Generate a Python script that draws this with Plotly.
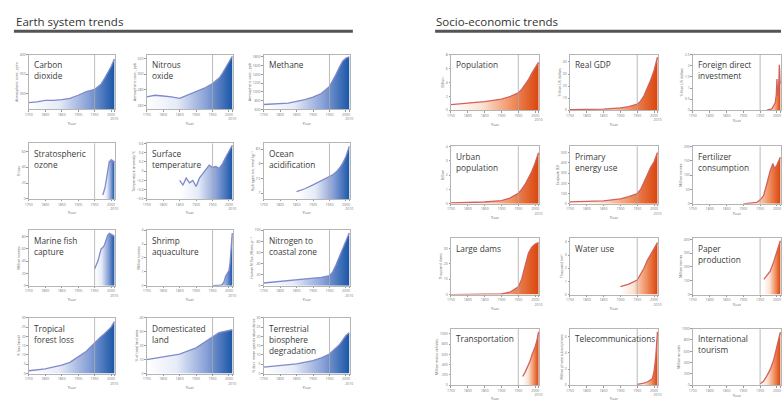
import plotly.graph_objects as go

W, H = 784, 401

# ---------------- Earth system trends (data) ----------------
co2_years = [1750, 1775, 1800, 1825, 1850, 1875, 1900, 1925, 1950, 1960, 1970, 1980, 1990, 2000, 2010]
co2_vals = [277, 279, 283, 283, 285, 288, 296, 305, 311, 317, 325, 339, 354, 369, 389]

n2o_years = [1750, 1775, 1800, 1825, 1850, 1875, 1900, 1925, 1950, 1960, 1970, 1980, 1990, 2000, 2010]
n2o_vals = [271, 273, 272, 271, 269, 273, 278, 282, 288, 291, 295, 301, 309, 316, 323]

ch4_years = [1750, 1775, 1800, 1825, 1850, 1875, 1900, 1925, 1950, 1960, 1970, 1980, 1990, 2000, 2010]
ch4_vals = [710, 720, 725, 740, 780, 820, 880, 960, 1120, 1250, 1400, 1560, 1700, 1770, 1800]

ozone_years = [1975, 1978, 1980, 1982, 1985, 1988, 1990, 1993, 1995, 1998, 2000, 2003, 2005, 2008, 2010]
ozone_vals = [5, 8, 12, 15, 24, 28, 35, 44, 48, 46, 50, 47, 49, 46, 48]

temp_years = [1850, 1860, 1870, 1880, 1890, 1900, 1910, 1920, 1930, 1940, 1950, 1960, 1970, 1980, 1990, 2000, 2010]
temp_vals = [-0.2, -0.3, -0.15, -0.25, -0.2, -0.33, -0.15, -0.05, 0.05, 0.13, 0.08, 0.1, 0.06, 0.16, 0.3, 0.42, 0.56]

ocean_years = [1850, 1875, 1900, 1925, 1950, 1960, 1970, 1980, 1990, 2000, 2010]
ocean_vals = [7.05, 7.15, 7.28, 7.42, 7.58, 7.63, 7.72, 7.85, 8.02, 8.25, 8.6]

fish_years = [1950, 1955, 1960, 1965, 1970, 1975, 1980, 1985, 1990, 1995, 2000, 2005, 2010]
fish_vals = [27, 33, 40, 50, 60, 62, 66, 74, 82, 85, 84, 82, 80]

shrimp_years = [1950, 1960, 1970, 1975, 1980, 1985, 1990, 1995, 2000, 2003, 2005, 2008, 2010]
shrimp_vals = [0.0, 0.01, 0.03, 0.05, 0.1, 0.3, 0.7, 0.9, 1.1, 1.6, 2.5, 3.3, 3.8]

nitro_years = [1750, 1800, 1850, 1900, 1925, 1950, 1960, 1970, 1980, 1990, 2000, 2010]
nitro_vals = [5, 8, 11, 13, 15, 18, 25, 38, 53, 67, 80, 95]

forest_years = [1750, 1800, 1850, 1875, 1900, 1925, 1950, 1960, 1970, 1980, 1990, 2000, 2010]
forest_vals = [1.5, 2.5, 4.5, 6, 9, 12, 16.5, 18.5, 20, 21.5, 23, 25, 28]

land_years = [1750, 1800, 1850, 1900, 1925, 1950, 1960, 1970, 1980, 1990, 2000, 2010]
land_vals = [10, 12, 14, 18.5, 22.5, 26.5, 28.5, 29.5, 30, 30.5, 31, 31.5]

bio_years = [1750, 1800, 1850, 1900, 1925, 1950, 1970, 1980, 1990, 2000, 2010]
bio_vals = [3.5, 4.2, 5.2, 7, 8.5, 10.5, 13.5, 15.5, 18, 20.5, 22]

# ---------------- Socio-economic trends (data) ----------------
pop_years = [1750, 1800, 1850, 1900, 1925, 1950, 1960, 1970, 1980, 1990, 2000, 2010]
pop_vals = [0.8, 1.0, 1.25, 1.6, 1.95, 2.5, 3.0, 3.7, 4.4, 5.3, 6.1, 6.9]

gdp_years = [1750, 1800, 1850, 1900, 1925, 1950, 1960, 1970, 1980, 1990, 2000, 2010]
gdp_vals = [0.6, 0.7, 1.0, 2.0, 3.0, 5.0, 7.5, 12, 18, 25, 33, 44]

fdi_years = [1970, 1975, 1980, 1985, 1990, 1995, 1998, 2000, 2002, 2004, 2006, 2007, 2008, 2009, 2010]
fdi_vals = [0.01, 0.02, 0.05, 0.06, 0.2, 0.34, 0.7, 1.4, 0.65, 0.75, 1.45, 2.05, 1.8, 1.2, 1.3]

urban_years = [1750, 1800, 1850, 1900, 1925, 1950, 1960, 1970, 1980, 1990, 2000, 2010]
urban_vals = [0.07, 0.1, 0.13, 0.22, 0.4, 0.73, 1.0, 1.35, 1.75, 2.25, 2.85, 3.55]

energy_years = [1750, 1800, 1850, 1900, 1925, 1950, 1960, 1970, 1980, 1990, 2000, 2010]
energy_vals = [20, 24, 30, 48, 70, 100, 140, 210, 290, 355, 410, 500]

fert_years = [1900, 1920, 1940, 1950, 1960, 1970, 1980, 1988, 1993, 2000, 2005, 2010]
fert_vals = [0, 2, 5, 14, 28, 70, 115, 140, 122, 136, 150, 162]

dams_years = [1750, 1800, 1850, 1900, 1925, 1950, 1960, 1970, 1980, 1990, 2000, 2010]
dams_vals = [0.0, 0.05, 0.1, 0.5, 1.5, 5, 10, 19, 27, 31, 33, 34]

water_years = [1900, 1925, 1950, 1960, 1970, 1980, 1990, 2000, 2010]
water_vals = [0.6, 0.8, 1.1, 1.5, 2.0, 2.6, 3.0, 3.5, 3.95]

paper_years = [1961, 1970, 1980, 1990, 2000, 2010]
paper_vals = [110, 135, 170, 235, 320, 390]

transport_years = [1963, 1970, 1980, 1985, 1990, 1995, 2000, 2005, 2010]
transport_vals = [170, 250, 400, 470, 580, 650, 750, 860, 1040]

tele_years = [1950, 1960, 1970, 1980, 1990, 1995, 2000, 2005, 2010]
tele_vals = [0.1, 0.15, 0.25, 0.4, 0.6, 0.8, 1.7, 3.5, 6.6]

tourism_years = [1950, 1960, 1970, 1980, 1990, 2000, 2010]
tourism_vals = [25, 70, 165, 280, 440, 680, 940]

# ---------------- panel definitions ----------------
earth_panels = [
    ("Carbon<br>dioxide", "Atmospheric conc., ppm", co2_years, co2_vals, [260, 400]),
    ("Nitrous<br>oxide", "Atmospheric conc., ppb", n2o_years, n2o_vals, [255, 325]),
    ("Methane", "Atmospheric conc., ppb", ch4_years, ch4_vals, [600, 1850]),
    ("Stratospheric<br>ozone", "% loss", ozone_years, ozone_vals, [0, 70]),
    ("Surface<br>temperature", "Temperature anomaly °C", temp_years, temp_vals, [-0.6, 0.6]),
    ("Ocean<br>acidification", "Hydrogen ion, nmol kg⁻¹", ocean_years, ocean_vals, [6.8, 8.7]),
    ("Marine fish<br>capture", "Million tonnes", fish_years, fish_vals, [0, 90]),
    ("Shrimp<br>aquaculture", "Million tonnes", shrimp_years, shrimp_vals, [0, 4]),
    ("Nitrogen to<br>coastal zone", "Human N flux, Mtons yr⁻¹", nitro_years, nitro_vals, [0, 100]),
    ("Tropical<br>forest loss", "% loss (area)", forest_years, forest_vals, [0, 30]),
    ("Domesticated<br>land", "% of total land area", land_years, land_vals, [0, 40]),
    ("Terrestrial<br>biosphere<br>degradation", "% decr. mean species abundance", bio_years, bio_vals, [0, 30]),
]

socio_panels = [
    ("Population", "Billion", pop_years, pop_vals, [0, 8]),
    ("Real GDP", "Trillion US dollars", gdp_years, gdp_vals, [0, 46]),
    ("Foreign direct<br>investment", "Trillion US dollars", fdi_years, fdi_vals, [0, 2.5]),
    ("Urban<br>population", "Billion", urban_years, urban_vals, [0, 4]),
    ("Primary<br>energy use", "Exajoule (EJ)", energy_years, energy_vals, [0, 560]),
    ("Fertilizer<br>consumption", "Million tonnes", fert_years, fert_vals, [0, 200]),
    ("Large dams", "Thousand dams", dams_years, dams_vals, [0, 37]),
    ("Water use", "Thousand km³", water_years, water_vals, [0, 4.3]),
    ("Paper<br>production", "Million tonnes", paper_years, paper_vals, [0, 410]),
    ("Transportation", "Million motor vehicles", transport_years, transport_vals, [0, 1100]),
    ("Telecommunications", "Million phone subscriptions", tele_years, tele_vals, [0, 7]),
    ("International<br>tourism", "Million arrivals", tourism_years, tourism_vals, [0, 1000]),
]

x_tickvals = [1750, 1800, 1850, 1900, 1950, 2000, 2010]
x_ticktext = ["1750", "1800", "1850", "1900", "1950", "2000", "<br>2010"]

blocks = [
    dict(panels=earth_panels, cols=[25, 144, 262], width=87,
         rows=[(53, 109), (144, 201), (233, 290), (323, 380)],
         line="#7f89cb",
         scale=[[0, "rgba(255,255,255,1)"], [0.35, "#e6ebf7"], [0.7, "#87a0d7"], [1, "#1b57a8"]]),
    dict(panels=socio_panels, cols=[451, 571, 695], width=89,
         rows=[(53, 110), (147, 206), (241, 299), (334, 392)],
         line="#d2605c",
         scale=[[0, "rgba(255,255,255,1)"], [0.35, "#fbe3d4"], [0.7, "#f09060"], [1, "#d9460f"]]),
]

fig = go.Figure()
layout = dict(width=W, height=H, margin=dict(l=0, r=0, t=0, b=0),
              paper_bgcolor="white", plot_bgcolor="white", showlegend=False,
              font=dict(family="Open Sans, DejaVu Sans, sans-serif", color="#444"))
annotations = []
shapes = []

idx = 0
for blk in blocks:
    for k, (title, ytitle, xs, ys, yr) in enumerate(blk["panels"]):
        idx += 1
        r, c = divmod(k, 3)
        left = blk["cols"][c]
        top, bot = blk["rows"][r]
        sfx = "" if idx == 1 else str(idx)
        xa, ya = "x" + sfx, "y" + sfx
        # invisible baseline at the bottom of the value axis, so the fill reaches the axis
        fig.add_trace(go.Scatter(
            x=xs, y=[yr[0]] * len(xs), mode="lines", xaxis=xa, yaxis=ya,
            line=dict(width=0, color="rgba(0,0,0,0)"), hoverinfo="skip"))
        fig.add_trace(go.Scatter(
            x=xs, y=ys, mode="lines", xaxis=xa, yaxis=ya,
            line=dict(color=blk["line"], width=1.3),
            fill="tonexty",
            fillgradient=dict(type="horizontal", colorscale=blk["scale"]),
            hoverinfo="skip"))
        layout["xaxis" + sfx] = dict(
            domain=[left / W, min(1.0, (left + blk["width"]) / W)], anchor=ya,
            range=[1750, 2012], tickvals=x_tickvals, ticktext=x_ticktext,
            tickangle=0,
            tickfont=dict(size=3.5, color="#777"), ticks="outside", ticklen=1.5,
            tickcolor="#999", showgrid=False, zeroline=False,
            showline=True, linecolor="#b5b5b5", linewidth=0.8, mirror=True,
            title=dict(text="Year", font=dict(size=4, color="#666"), standoff=1))
        layout["yaxis" + sfx] = dict(
            domain=[1 - bot / H, 1 - top / H], anchor=xa, range=yr, nticks=7,
            tickfont=dict(size=3.5, color="#777"), ticks="outside", ticklen=1.5,
            tickcolor="#999", showgrid=False, zeroline=False,
            showline=True, linecolor="#b5b5b5", linewidth=0.8, mirror=True,
            title=dict(text=ytitle, font=dict(size=3.5, color="#666"), standoff=1))
        shapes.append(dict(type="line", xref=xa, yref=ya + " domain",
                           x0=1950, x1=1950, y0=0, y1=1,
                           line=dict(color="#aaaaaa", width=0.8)))
        annotations.append(dict(text=title, xref=xa + " domain", yref=ya + " domain",
                                x=0.035, y=0.95, xanchor="left", yanchor="top",
                                showarrow=False, align="left",
                                font=dict(size=8.3, color="#3a3a3a")))

# section headers
annotations.append(dict(text="Earth system trends", xref="paper", yref="paper",
                        x=10 / W, y=1 - 9 / H, xanchor="left", yanchor="top",
                        showarrow=False, font=dict(size=11.5, color="#333")))
annotations.append(dict(text="Socio-economic trends", xref="paper", yref="paper",
                        x=434 / W, y=1 - 9 / H, xanchor="left", yanchor="top",
                        showarrow=False, font=dict(size=11.5, color="#333")))
shapes.append(dict(type="line", xref="paper", yref="paper",
                   x0=10 / W, x1=352 / W, y0=1 - 29 / H, y1=1 - 29 / H,
                   line=dict(color="#555", width=3)))
shapes.append(dict(type="line", xref="paper", yref="paper",
                   x0=435 / W, x1=1.0, y0=1 - 29 / H, y1=1 - 29 / H,
                   line=dict(color="#555", width=3)))

layout["annotations"] = annotations
layout["shapes"] = shapes
fig.update_layout(**layout)
fig.write_html("out.html", config={"displayModeBar": False},
               post_script="document.body.style.margin='0';document.body.style.overflow='hidden';")
